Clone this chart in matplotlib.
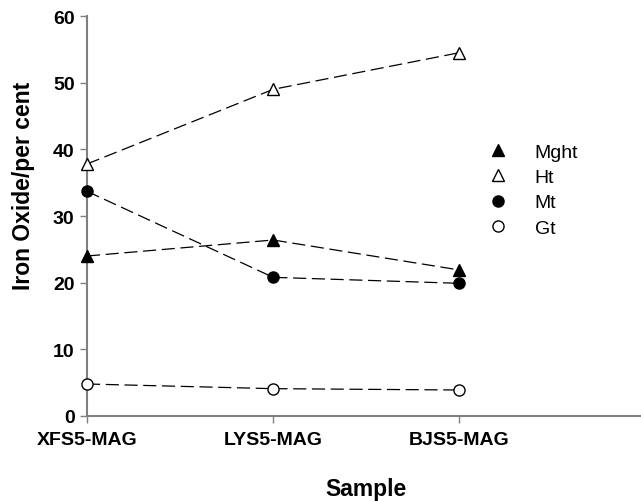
import matplotlib
matplotlib.use("Agg")
import matplotlib.pyplot as plt
import matplotlib.lines as mlines

samples = ["XFS5-MAG", "LYS5-MAG", "BJS5-MAG"]
mght = [24.0, 26.4, 21.9]
ht = [37.8, 49.0, 54.5]
mt = [33.7, 20.8, 19.9]
gt = [4.8, 4.1, 3.9]
yticks = [0, 10, 20, 30, 40, 50, 60]

plt.rcParams['font.family'] = ['Liberation Sans', 'DejaVu Sans']

fig = plt.figure(figsize=(6.41, 5.02), dpi=100)
ax = fig.add_axes([87/641, 85/502, 1 - 87/641, 400/502])

x = list(range(len(samples)))
dash = (10.5, 4.5)
kw = dict(color='black', lw=0.9, dashes=dash, markersize=8, markeredgewidth=1.0,
          clip_on=False, zorder=3)
series = [(mght, '^', 'black', 'Mght'), (ht, '^', 'white', 'Ht'),
          (mt, 'o', 'black', 'Mt'), (gt, 'o', 'white', 'Gt')]
for vals, m, fc, lab in series:
    ax.plot(x, vals, marker=m, mfc=fc, mec='black', label=lab, **kw)

ax.set_xlim(0, 2.975)
ax.set_ylim(0, 60)
ax.set_yticks(yticks)
ax.set_xticks(x)
ax.set_xticklabels(samples)
for s in ['top', 'right']:
    ax.spines[s].set_visible(False)
for s in ['left', 'bottom']:
    ax.spines[s].set_color('#808080')
    ax.spines[s].set_linewidth(1.5)
ax.tick_params(axis='both', direction='out', length=5, width=1.0, color='#808080',
               labelsize=14)
ax.tick_params(axis='y', pad=4)
ax.tick_params(axis='x', pad=6)
for lab in ax.get_xticklabels() + ax.get_yticklabels():
    lab.set_fontweight('bold')

ax.set_ylabel('Iron Oxide/per cent', fontsize=16.5, fontweight='bold', va='center', ha='center')
ax.yaxis.set_label_coords(-0.114, 0.578)
ax.set_xlabel('Sample', fontsize=16.5, fontweight='bold', va='center', ha='center')
ax.xaxis.set_label_coords(0.503, -0.1825)

handles = [mlines.Line2D([], [], linestyle='none', marker=m, mfc=fc, mec='black',
                         markersize=8) for _, m, fc, _ in series]
labels = [lab for *_, lab in series]
fig.legend(handles, labels, loc='upper left', bbox_to_anchor=(488/641, 1 - 144/502),
           frameon=False, fontsize=14, handlelength=1.0, handletextpad=1.4,
           labelspacing=0.4, borderpad=0, borderaxespad=0)

fig.savefig('out.png', dpi=100)
